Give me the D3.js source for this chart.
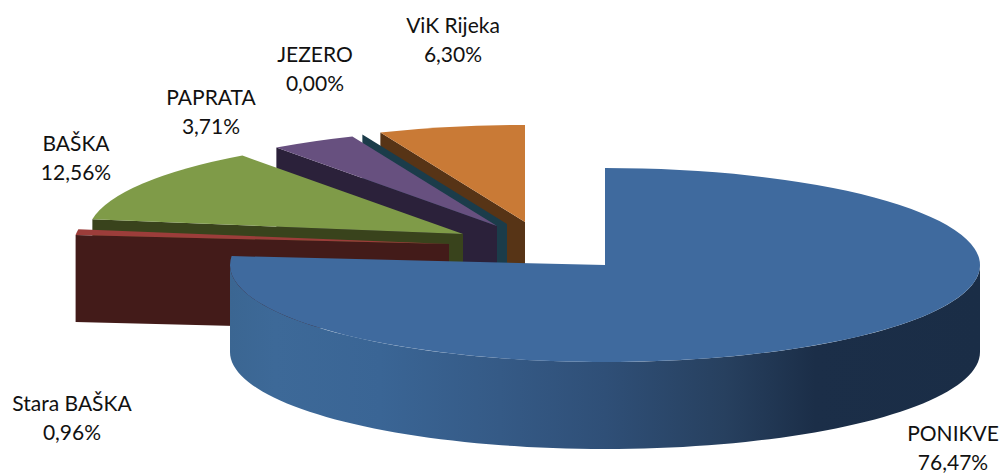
<!DOCTYPE html>
<html><head><meta charset="utf-8">
<script src="https://cdn.jsdelivr.net/npm/d3@7"></script>
<style>html,body{margin:0;background:#fff}svg{display:block}text{font-family:Lato,"Open Sans",sans-serif;font-size:21px;fill:#111;text-anchor:middle}</style>
</head><body><svg id="c" width="1000" height="473"></svg>
<script>
// Data
const categories = ["PONIKVE","Stara BAŠKA","BAŠKA","PAPRATA","JEZERO","ViK Rijeka"];
const shares = [76.47,0.96,12.56,3.71,0.00,6.30];

// Layout and style
const W=1000,H=473,rx=375,ry=97,depth=87;
const apexes=[[605,265],[449,244],[463,234],[497,226],[507,224],[525,222]];
const topColors=["#3f6a9e","#9c3d3a","#7f9b48","#67507f","#2f7f93","#c97a36"];
const wallColors=[null,"#431b19","#39431c","#2b213a","#1b3c4a","#573416"];
const labelPos=[[953,434],[72,404],[76,144],[211,98],[315,55],[453,26]];

const svg=d3.select("#c");
const fmt=d3.formatLocale({decimal:",",thousands:".",grouping:[3],currency:["",""]}).format(".2f");
const pie=d3.pie().sort(null).value(d=>d).startAngle(0).endAngle(2*Math.PI);
const slices=pie(shares).map((s,i)=>({...s,i}));

const sx=d3.scaleLinear().domain([-1,1]).range([-rx,rx]);
const sy=d3.scaleLinear().domain([-1,1]).range([ry,-ry]);
const at=(a)=>[sx(Math.sin(a)),sy(Math.cos(a))];
const arcTop=d3.arc().innerRadius(0).outerRadius(rx);

const grad=svg.append("defs").append("linearGradient").attr("id","wall")
  .attr("gradientUnits","userSpaceOnUse").attr("x1",-rx).attr("x2",rx).attr("y1",0).attr("y2",0);
[[0,"#3b6692"],[.06,"#3d6998"],[.2,"#3a6595"],[.36,"#355a86"],[.5,"#2f4f77"],[.66,"#27405f"],[.78,"#1b2e48"],[1,"#1a2d46"]]
  .forEach(([o,c])=>grad.append("stop").attr("offset",o).attr("stop-color",c));

// painter's order: back slices first, the large front slice last
const order=[5,4,3,2,1,0];
order.forEach(i=>{
  const s=slices[i],[ax,ay]=apexes[i];
  const g=svg.append("g").attr("transform",`translate(${ax},${ay})`);
  if(i===0){
    const angles=d3.range(90,270.01,2).map(d=>d*Math.PI/180);
    const upper=angles.map(at);
    const lower=angles.map(at).reverse().map(([x,y])=>[x,y+depth]);
    g.append("path").attr("d",d3.line()(upper.concat(lower))+"Z").attr("fill","url(#wall)");
  } else {
    const [ox,oy]=at(s.startAngle);
    const pts=[[0,0],[ox,oy],[ox,oy+depth],[0,depth]];
    g.append("path").attr("d",d3.line()(pts)+"Z").attr("fill",wallColors[i]);
  }
  if(s.endAngle>s.startAngle){
    g.append("path").attr("transform",`scale(1,${ry/rx})`).attr("d",arcTop(s)).attr("fill",topColors[i]);
  }
});

const labels=svg.append("g");
categories.forEach((c,i)=>{
  const [x,y]=labelPos[i];
  const t=labels.append("text").attr("x",x).attr("y",y);
  t.append("tspan").attr("x",x).attr("dy",7).text(c);
  t.append("tspan").attr("x",x).attr("dy",29).text(fmt(shares[i])+"%");
});
</script></body></html>
